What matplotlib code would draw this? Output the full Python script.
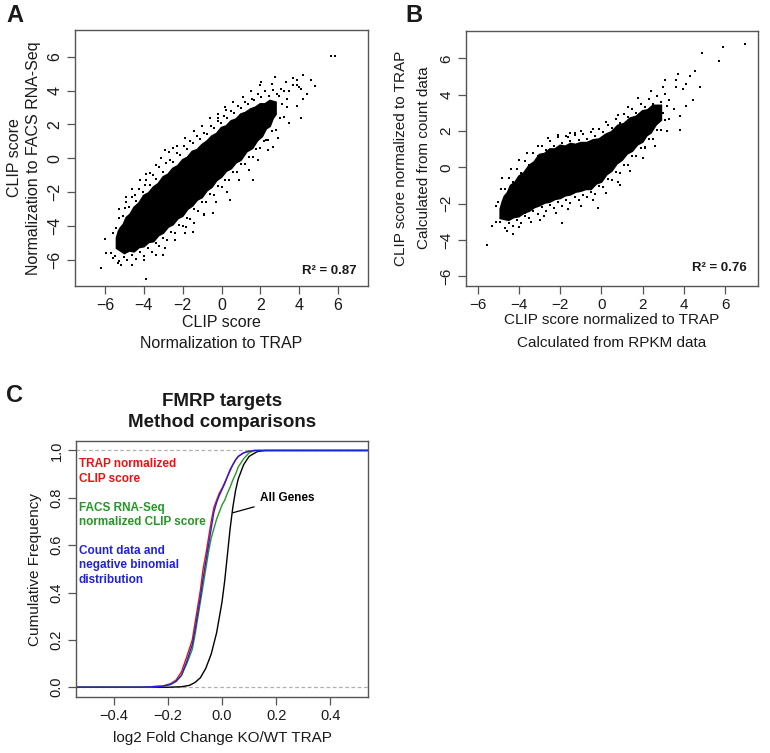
import matplotlib
matplotlib.use("Agg")
import matplotlib.pyplot as plt

plt.rcParams['font.family'] = ['Liberation Sans', 'DejaVu Sans']

# ---------------- Panel A data (CLIP score: TRAP vs FACS RNA-Seq) ----------------
# dense core of the cloud (outline)
a_core_x = [-5.4, -5.3, -5.2, -5.05, -4.9, -4.7, -4.5, -4.25, -4.0, -3.75, -3.5, -3.25, -3.0, -2.75, -2.5,
            -2.25, -2.0, -1.75, -1.5, -1.25, -1.0, -0.75, -0.5, -0.25, 0.0, 0.25, 0.5, 0.75, 1.0, 1.25, 1.5,
            1.75, 2.0, 2.25, 2.5, 2.8,
            2.8, 2.65, 2.5, 2.3, 2.1, 1.85, 1.6, 1.3, 1.0, 0.75, 0.5, 0.25, 0.0, -0.25, -0.5, -0.75, -1.0,
            -1.25, -1.5, -1.75, -2.0, -2.25, -2.5, -2.75, -3.0, -3.25, -3.5, -3.75, -4.0, -4.25, -4.5, -4.75,
            -5.0, -5.2, -5.4]
a_core_y = [-4.7, -4.3, -4.1, -3.9, -3.5, -3.3, -2.9, -2.65, -2.2, -2.05, -1.7, -1.5, -1.1, -0.95, -0.6,
            -0.45, -0.1, 0.05, 0.4, 0.5, 0.8, 1.0, 1.3, 1.45, 1.8, 1.9, 2.2, 2.3, 2.6, 2.7, 2.9,
            3.0, 3.2, 3.2, 3.4, 3.3,
            2.6, 2.35, 1.9, 1.75, 1.3, 1.05, 0.6, 0.4, -0.1, -0.25, -0.6, -0.75, -1.1, -1.3, -1.7, -1.9, -2.3,
            -2.45, -2.8, -3.0, -3.4, -3.55, -3.9, -4.05, -4.4, -4.55, -4.9, -4.95, -5.2, -5.25, -5.5, -5.45,
            -5.6, -5.45, -5.3]
# individual (sparse) points around the core: upper edge, lower edge, outliers
a_x = [-5.6, -5.45, -5.3, -5.1, -4.95, -4.75, -4.6, -4.4, -4.25, -4.05, -3.9, -3.7, -3.55, -3.35, -3.2, -3.0,
       -2.85, -2.65, -2.5, -2.3, -2.15, -1.95, -1.8, -1.6, -1.45, -1.25, -1.1, -0.9, -0.75, -0.55, -0.4, -0.2,
       -0.05, 0.15, 0.3, 0.5, 0.65, 0.85, 1.0, 1.2, 1.35, 1.55, 1.7, 1.9, 2.05, 2.25, 2.45, 2.65, 2.85, 3.05,
       3.2, 3.35, 3.1, 2.95,
       -5.3, -4.9, -4.6, -4.2, -3.9, -3.4, -3.1, -2.7, -2.3, -1.9, -1.4, -1.0, -0.6, -0.2, 0.2, 0.6, 1.1, 1.5,
       2.0, 2.6, 3.3, 3.7, 3.9, 3.5,
       -5.7, -5.5, -5.3, -5.05, -4.85, -4.6, -4.4, -4.2, -4.0, -3.8, -3.6, -3.4, -3.2, -3.0, -2.8, -2.6, -2.4,
       -2.2, -2.0, -1.8, -1.6, -1.4, -1.2, -1.0, -0.8, -0.6, -0.4, -0.2, 0.0, 0.2, 0.4, 0.6, 0.8, 1.0, 1.2,
       1.4, 1.6, 1.8, 2.0, 2.2, 2.4, 2.6, 2.8, 3.0, 3.2, 3.4,
       -5.2, -4.6, -4.0, -3.4, -2.9, -2.4, -1.9, -1.4, -0.9, -0.3, 0.3, 0.9, 1.4, 1.9, 2.4, 2.9, 3.5, 3.9,
       4.2, 4.4,
       -6.19, -3.87, 5.66, 5.83, 4.2, 4.63, 4.8, 3.68, 2.74, 2.05, 4.11, 2.65, 0.25, -0.18, -2.5, -2.93,
       -3.7, -3.96, -4.47, -4.9, -6.02, -5.93, -5.59, -5.33, -3.01, -1.81, -0.92, 0.42, 1.62, -0.44,
       -1.47, 2.31, 1.71, 4.0, 4.1, 3.9]
a_y = [-4.4, -4.1, -3.5, -3.4, -2.9, -2.85, -2.3, -2.5, -1.8, -2.0, -1.3, -1.55, -1.0, -1.2, -0.5, -0.8,
       -0.3, -0.1, -0.2, 0.3, 0.2, 0.7, 0.55, 1.0, 0.9, 1.3, 1.15, 1.5, 1.45, 1.9, 1.8, 2.2,
       2.1, 2.5, 2.35, 2.8, 2.7, 3.1, 2.95, 3.35, 3.2, 3.5, 3.45, 3.8, 3.6, 3.95, 3.7, 4.05, 3.8, 4.1,
       4.0, 3.5, 3.2, 3.65,
       -3.0, -2.3, -1.8, -1.3, -0.9, -0.4, 0.0, 0.4, 0.7, 1.2, 1.6, 1.9, 2.4, 2.6, 3.0, 3.3, 3.6, 4.0,
       4.3, 4.4, 4.5, 4.3, 4.6, 4.0,
       -5.6, -5.75, -6.05, -5.8, -6.0, -5.7, -5.95, -5.5, -5.75, -5.3, -5.5, -5.0, -5.2, -4.7, -4.8, -4.35, -4.4,
       -3.95, -4.0, -3.5, -3.55, -3.0, -3.1, -2.6, -2.6, -2.1, -2.15, -1.65, -1.7, -1.25, -1.25, -0.8, -0.8, -0.35,
       -0.35, 0.1, 0.05, 0.55, 0.6, 1.05, 1.1, 1.6, 1.7, 2.35, 2.45, 3.0,
       -6.3, -6.3, -6.0, -5.7, -5.3, -4.8, -4.4, -3.8, -3.3, -2.6, -2.0, -1.3, -0.7, -0.1, 0.5, 1.2, 2.1, 3.1,
       3.5, 3.8,
       -6.49, -7.14, 6.04, 6.04, 4.92, 4.62, 4.27, 4.72, 4.78, 4.5, 2.36, 0.69, 2.85, 2.36, 0.59, 0.49,
       -0.89, -1.57, -2.16, -2.56, -4.78, -5.6, -5.9, -6.2, -5.7, -4.03, -3.35, -2.46, -1.28, -3.25,
       -4.33, 1.08, 1.28, 4.2, 4.1, 4.3]
a_r2 = "R\u00b2 = 0.87"

# ---------------- Panel B data (RPKM vs count data) ----------------
b_core_x = [-4.9, -4.8, -4.7, -4.55, -4.4, -4.2, -4.0, -3.75, -3.5, -3.25, -3.0, -2.75, -2.5, -2.25, -2.0,
            -1.75, -1.5, -1.25, -1.0, -0.7, -0.4, -0.1, 0.2, 0.5, 0.8, 1.1, 1.4, 1.7, 2.0, 2.25, 2.5, 2.9,
            2.9, 2.65, 2.4, 2.2, 2.0, 1.75, 1.5, 1.25, 1.0, 0.75, 0.5, 0.25, 0.0, -0.25, -0.5, -0.75, -1.0,
            -1.25, -1.5, -1.75, -2.0, -2.25, -2.5, -2.75, -3.0, -3.25, -3.5, -3.75, -4.0, -4.25, -4.5, -4.7,
            -4.9]
b_core_y = [-2.3, -1.9, -1.6, -1.4, -1.0, -0.85, -0.5, -0.3, 0.1, 0.3, 0.7, 0.75, 1.0, 1.0, 1.2,
            1.15, 1.3, 1.25, 1.35, 1.35, 1.5, 1.55, 1.8, 1.95, 2.3, 2.4, 2.7, 2.8, 3.1, 3.15, 3.4, 3.4,
            2.6, 2.35, 1.9, 1.75, 1.4, 1.25, 0.9, 0.75, 0.4, 0.2, -0.2, -0.4, -0.8, -0.9, -1.2, -1.2, -1.3,
            -1.35, -1.5, -1.55, -1.7, -1.75, -1.9, -1.95, -2.1, -2.2, -2.4, -2.5, -2.7, -2.75, -2.9, -2.85,
            -2.8]
b_x = [-5.1, -5.0, -4.85, -4.7, -4.5, -4.3, -4.1, -3.9, -3.7, -3.5, -3.3, -3.1, -2.9, -2.7, -2.5, -2.3,
       -2.1, -1.9, -1.7, -1.5, -1.3, -1.1, -0.9, -0.7, -0.5, -0.3, -0.1, 0.1, 0.3, 0.5, 0.7, 0.9, 1.1, 1.3,
       1.5, 1.7, 1.9, 2.1, 2.3, 2.5, 2.7, 2.9, 3.1, 3.3, 3.2, 3.0,
       -4.8, -4.4, -4.0, -3.6, -3.1, -2.6, -2.1, -1.5, -1.0, -0.4, 0.2, 0.8, 1.3, 1.8, 2.4, 3.0, 3.6,
       -5.1, -4.9, -4.7, -4.5, -4.3, -4.1, -3.9, -3.7, -3.5, -3.3, -3.1, -2.9, -2.7, -2.5, -2.3, -2.1,
       -1.9, -1.7, -1.5, -1.3, -1.1, -0.9, -0.7, -0.5, -0.3, -0.1, 0.1, 0.3, 0.5, 0.7, 0.9, 1.1, 1.3,
       1.5, 1.7, 1.9, 2.1, 2.3, 2.5, 2.7, 2.9, 3.1, 3.3, 3.5,
       -4.6, -4.0, -3.4, -2.8, -2.2, -1.6, -1.0, -0.4, 0.2, 0.8, 1.4, 2.0, 2.6, 3.2, 3.8, 4.1,
       -5.56, -5.32, -4.27, -3.54, -1.63, -1.28, 4.9, 5.92, 6.97, 5.73, 4.79, 3.82, 4.46, 4.55, 3.74,
       3.09, 2.36, 2.12, 1.5, 0.9, -0.15, -1.92, -2.98, -3.7, -4.75, 4.3, 4.1, 3.95, 3.6]
b_y = [-2.1, -1.9, -1.2, -1.2, -0.6, -0.8, -0.1, -0.3, 0.35, 0.15, 0.8, 0.6, 1.2, 0.95, 1.45, 1.2,
       1.65, 1.35, 1.75, 1.45, 1.8, 1.5, 1.85, 1.55, 1.95, 1.7, 2.1, 1.95, 2.35, 2.15, 2.65, 2.45, 2.95, 2.75,
       3.2, 3.0, 3.5, 3.3, 3.75, 3.5, 3.95, 3.6, 4.05, 3.7, 3.4, 3.0,
       -0.6, -0.1, 0.4, 0.8, 1.2, 1.6, 1.8, 1.9, 2.0, 2.1, 2.5, 2.9, 3.3, 3.8, 4.2, 4.4, 4.8,
       -3.0, -3.0, -3.35, -3.05, -3.2, -2.9, -3.05, -2.65, -2.8, -2.4, -2.55, -2.2, -2.4, -2.05, -2.25, -1.9,
       -2.1, -1.8, -1.95, -1.65, -1.8, -1.5, -1.65, -1.35, -1.45, -1.05, -1.1, -0.65, -0.7, -0.25, -0.3, 0.15, 0.15,
       0.6, 0.6, 1.05, 1.05, 1.55, 1.55, 2.05, 2.05, 2.6, 2.65, 3.2,
       -3.5, -3.3, -3.0, -2.7, -2.5, -2.3, -2.1, -1.8, -1.4, -0.8, -0.2, 0.5, 1.2, 2.0, 2.8, 3.4,
       -4.26, -3.25, -3.67, -0.41, 1.66, 1.88, 6.27, 6.64, 6.79, 5.85, 4.41, 2.06, 3.71, 5.3, 5.14,
       4.81, 3.16, 1.14, 0.6, -0.96, -2.24, -3.07, -2.89, -2.52, -2.7, 5.0, 4.6, 4.3, 4.4]
b_r2 = "R\u00b2 = 0.76"

# ---------------- Panel C data (cumulative frequency curves) ----------------
c_x = [-0.54, -0.30, -0.22, -0.19, -0.17, -0.15, -0.13, -0.11, -0.10, -0.09, -0.08, -0.07, -0.06,
       -0.05, -0.04, -0.03, -0.02, -0.01, 0.0, 0.01, 0.02, 0.03, 0.04, 0.05, 0.06, 0.08, 0.10, 0.12, 0.54]
trap_y = [0, 0, 0.005, 0.015, 0.03, 0.065, 0.13, 0.20, 0.27, 0.34, 0.41, 0.50, 0.56,
          0.63, 0.70, 0.76, 0.79, 0.82, 0.84, 0.865, 0.89, 0.92, 0.94, 0.96, 0.975, 0.99, 0.997, 1.0, 1.0]
facs_y = [0, 0, 0.004, 0.012, 0.025, 0.05, 0.10, 0.16, 0.22, 0.29, 0.36, 0.43, 0.50,
          0.57, 0.63, 0.67, 0.71, 0.74, 0.77, 0.79, 0.82, 0.845, 0.875, 0.90, 0.93, 0.965, 0.99, 1.0, 1.0]
count_y = [0, 0, 0.004, 0.012, 0.025, 0.05, 0.11, 0.18, 0.24, 0.31, 0.38, 0.46, 0.53,
           0.60, 0.67, 0.74, 0.78, 0.81, 0.835, 0.86, 0.89, 0.915, 0.94, 0.96, 0.975, 0.99, 0.997, 1.0, 1.0]
all_x = [-0.54, -0.20, -0.15, -0.12, -0.10, -0.08, -0.06, -0.04, -0.02, 0.0, 0.01, 0.02, 0.03, 0.04,
         0.05, 0.06, 0.08, 0.10, 0.13, 0.16, 0.54]
all_y = [0, 0, 0.002, 0.008, 0.02, 0.04, 0.08, 0.14, 0.23, 0.36, 0.45, 0.56, 0.67, 0.76,
         0.83, 0.88, 0.94, 0.975, 0.995, 1.0, 1.0]
c_labels = ["TRAP normalized\nCLIP score", "FACS RNA-Seq\nnormalized CLIP score",
            "Count data and\nnegative binomial\ndistribution", "All Genes"]

# ---------------- figure ----------------
W, H = 770, 753
fig = plt.figure(figsize=(W / 100, H / 100), dpi=100)


def box(l, t, r, b):
    return [l / W, 1 - b / H, (r - l) / W, (b - t) / H]


def fx(x):
    return x / W


def fy(y):
    return 1 - y / H


SPINE = '#555555'
TXT = '#1a1a1a'
MINUS = '\u2212'
int_labels = [MINUS + '6', MINUS + '4', MINUS + '2', '0', '2', '4', '6']


def style(ax, fs):
    for s in ax.spines.values():
        s.set_color(SPINE)
        s.set_linewidth(1.0)
    ax.tick_params(direction='out', length=6, width=0.9, color=SPINE, labelsize=fs,
                   labelcolor=TXT, pad=3)
    for lab in ax.get_yticklabels():
        lab.set_rotation(90)
        lab.set_va('center')


def scatter_panel(ax, cx, cy, px, py):
    ax.fill(cx, cy, color='black', lw=1.5, ec='black')
    ax.plot(px, py, ls='none', marker='s', ms=1.6, color='black', mew=0)


# Panel A
axA = fig.add_axes(box(75, 30, 368, 286))
scatter_panel(axA, a_core_x, a_core_y, a_x, a_y)
axA.set_xlim(-7.55, 7.55)
axA.set_ylim(-7.53, 7.57)
axA.set_xticks(range(-6, 7, 2))
axA.set_yticks(range(-6, 7, 2))
axA.set_xticklabels(int_labels)
axA.set_yticklabels(int_labels)
style(axA, 11.5)
axA.text(0.96, 0.06, a_r2, transform=axA.transAxes, ha='right', va='center',
         fontsize=9.5, fontweight='bold', color=TXT)
fig.text(fx(221), fy(322), "CLIP score", ha='center', va='center', fontsize=11.5, color=TXT)
fig.text(fx(221), fy(343), "Normalization to TRAP", ha='center', va='center', fontsize=11.5, color=TXT)
fig.text(fx(15), fy(158), "CLIP score", ha='center', va='center', rotation=90, fontsize=11.5, color=TXT)
fig.text(fx(34), fy(158), "Normalization to FACS RNA-Seq", ha='center', va='center', rotation=90,
         fontsize=11.5, color=TXT)
fig.text(fx(6), fy(15), "A", ha='left', va='center', fontsize=17, fontweight='bold', color=TXT)

# Panel B
axB = fig.add_axes(box(466, 30.7, 758, 285.5))
scatter_panel(axB, b_core_x, b_core_y, b_x, b_y)
axB.set_xlim(-6.57, 7.6)
axB.set_ylim(-6.5, 7.52)
axB.set_xticks(range(-6, 7, 2))
axB.set_yticks(range(-6, 7, 2))
axB.set_xticklabels(int_labels)
axB.set_yticklabels(int_labels)
style(axB, 11)
axB.text(0.96, 0.07, b_r2, transform=axB.transAxes, ha='right', va='center',
         fontsize=9.5, fontweight='bold', color=TXT)
fig.text(fx(612), fy(320), "CLIP score normalized to TRAP", ha='center', va='center', fontsize=11, color=TXT)
fig.text(fx(612), fy(343), "Calculated from RPKM data", ha='center', va='center', fontsize=11, color=TXT)
fig.text(fx(401), fy(158), "CLIP score normalized to TRAP", ha='center', va='center', rotation=90,
         fontsize=11, color=TXT)
fig.text(fx(424), fy(158), "Calculated from count data", ha='center', va='center', rotation=90,
         fontsize=11, color=TXT)
fig.text(fx(405), fy(15), "B", ha='left', va='center', fontsize=17, fontweight='bold', color=TXT)

# Panel C
axC = fig.add_axes(box(76, 441, 368.3, 696.7))
axC.axhline(0, color='#b0b0b0', lw=0.9, ls=(0, (3, 2)))
axC.axhline(1, color='#b0b0b0', lw=0.9, ls=(0, (3, 2)))
axC.plot(all_x, all_y, color='black', lw=1.0)
axC.plot(c_x, trap_y, color='#ee1111', lw=1.0)
axC.plot(c_x, facs_y, color='#229922', lw=1.0)
axC.plot(c_x, count_y, color='#2222dd', lw=1.0)
axC.set_xlim(-0.54, 0.541)
axC.set_ylim(-0.04, 1.04)
axC.set_xticks([-0.4, -0.2, 0.0, 0.2, 0.4])
axC.set_xticklabels([MINUS + '0.4', MINUS + '0.2', '0.0', '0.2', '0.4'])
axC.set_yticks([0, 0.2, 0.4, 0.6, 0.8, 1.0])
axC.set_yticklabels(['0.0', '0.2', '0.4', '0.6', '0.8', '1.0'])
style(axC, 10.5)
axC.text(-0.529, 0.91, c_labels[0], color='#ee1111', fontsize=8.5, fontweight='bold',
         ha='left', va='center', linespacing=1.3)
axC.text(-0.529, 0.727, c_labels[1], color='#229922', fontsize=8.5, fontweight='bold',
         ha='left', va='center', linespacing=1.3)
axC.text(-0.529, 0.515, c_labels[2], color='#2222dd', fontsize=8.5, fontweight='bold',
         ha='left', va='center', linespacing=1.3)
axC.annotate(c_labels[3], xy=(0.040, 0.737), xytext=(0.139, 0.80), color='black', fontsize=8.5,
             fontweight='bold', ha='left', va='center',
             arrowprops=dict(arrowstyle='-', color='black', lw=0.9, shrinkA=2, shrinkB=0))
fig.text(fx(222), fy(401), "FMRP targets", ha='center', va='center', fontsize=13.5,
         fontweight='bold', color=TXT)
fig.text(fx(222), fy(423), "Method comparisons", ha='center', va='center', fontsize=13.5,
         fontweight='bold', color=TXT)
fig.text(fx(222), fy(738), "log2 Fold Change KO/WT TRAP", ha='center', va='center', fontsize=11, color=TXT)
fig.text(fx(35), fy(569), "Cumulative Frequency", ha='center', va='center', rotation=90,
         fontsize=11, color=TXT)
fig.text(fx(6), fy(395), "C", ha='left', va='center', fontsize=17, fontweight='bold', color=TXT)

fig.savefig("out.png", dpi=100, facecolor='white')
